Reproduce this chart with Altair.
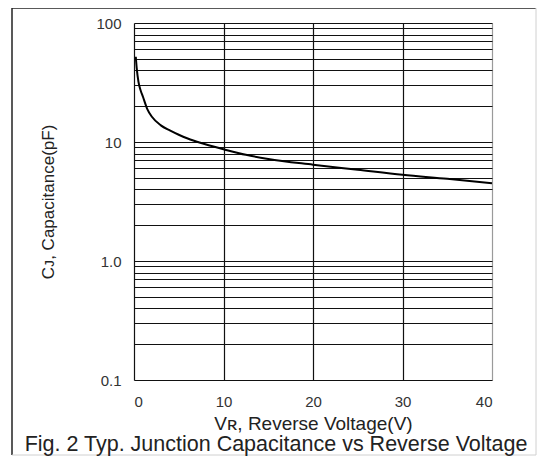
import altair as alt
import pandas as pd

# Data
voltage = [0.2, 0.3, 0.5, 0.75, 1.0, 1.5, 2, 3, 4, 5, 6, 7.5, 10, 12.5, 15, 20, 25, 30, 35, 40]
capacitance = [52, 42, 32, 27, 24, 18.8, 16.3, 13.8, 12.5, 11.5, 10.7, 9.8, 8.7, 7.8, 7.2, 6.45, 5.85, 5.3, 4.9, 4.5]

x_ticks = [0, 10, 20, 30, 40]
y_grid = [0.1, 0.2, 0.3, 0.4, 0.5, 0.6, 0.7, 0.8, 0.9,
          1, 2, 3, 4, 5, 6, 7, 8, 9,
          10, 20, 30, 40, 50, 60, 70, 80, 90, 100]
y_label_expr = ("datum.value == 100 ? '100' : datum.value == 10 ? '10' : "
                "datum.value == 1 ? '1.0' : datum.value == 0.1 ? '0.1' : ''")

x_title = "V\u0280, Reverse Voltage(V)"
y_title = "C\u1d0a, Capacitance(pF)"
caption = "Fig. 2 Typ. Junction Capacitance vs Reverse Voltage"

FONT = "Liberation Sans"

df = pd.DataFrame({"V": voltage, "C": capacitance})

line = alt.Chart(df).mark_line(color="#000000", strokeWidth=2, interpolate="monotone").encode(
    x=alt.X("V:Q",
            scale=alt.Scale(domain=[0, 40], nice=False, zero=False),
            axis=alt.Axis(values=x_ticks, title=x_title, ticks=False, domain=False,
                          grid=True,
                          gridColor=alt.condition("datum.value == 40", alt.value("#9a9a9a"), alt.value("#111111")),
                          gridWidth=1.2, labelPadding=14, labelFontSize=15, labelColor="#333333",
                          labelFont=FONT, titleFont=FONT, titleFontSize=19, titleFontWeight="normal",
                          titleColor="#222222", titlePadding=5)),
    y=alt.Y("C:Q",
            scale=alt.Scale(type="log", domain=[0.1, 100], nice=False),
            axis=alt.Axis(values=y_grid, labelExpr=y_label_expr, title=y_title, ticks=False,
                          domain=False, grid=True, gridColor="#111111", gridWidth=1,
                          labelPadding=13, labelFontSize=15, labelColor="#333333",
                          labelFont=FONT, titleFont=FONT, titleFontSize=17, titleFontWeight="normal",
                          titleColor="#222222", titlePadding=38, labelOverlap=False)),
)

base = alt.Chart(pd.DataFrame({"k": [0]}))
frame_left = base.mark_rule(color="#222222", strokeWidth=1.5).encode(
    x=alt.value(-122), y=alt.value(-15), y2=alt.value(432))
frame_top = base.mark_rule(color="#222222", strokeWidth=1.5).encode(
    x=alt.value(-122), x2=alt.value(402), y=alt.value(-15))
frame_right = base.mark_rule(color="#d0d0d0", strokeWidth=1).encode(
    x=alt.value(402), y=alt.value(-15), y2=alt.value(432))
frame_bottom = base.mark_rule(color="#d0d0d0", strokeWidth=1).encode(
    x=alt.value(-122), x2=alt.value(402), y=alt.value(432))
cap = base.mark_text(text=caption, font=FONT, fontSize=21.5, color="#222222",
                     align="center", baseline="alphabetic").encode(
    x=alt.value(142), y=alt.value(428))

chart = alt.layer(line, frame_left, frame_top, frame_right, frame_bottom, cap).properties(
    width=358, height=357,
    autosize=alt.AutoSizeParams(type="none"),
    padding={"left": 126, "top": 15, "right": 46, "bottom": 76},
).configure_view(stroke="#9a9a9a", strokeWidth=1).configure(background="#ffffff")

chart.save("out.html", embed_options={"renderer": "svg", "actions": False})
